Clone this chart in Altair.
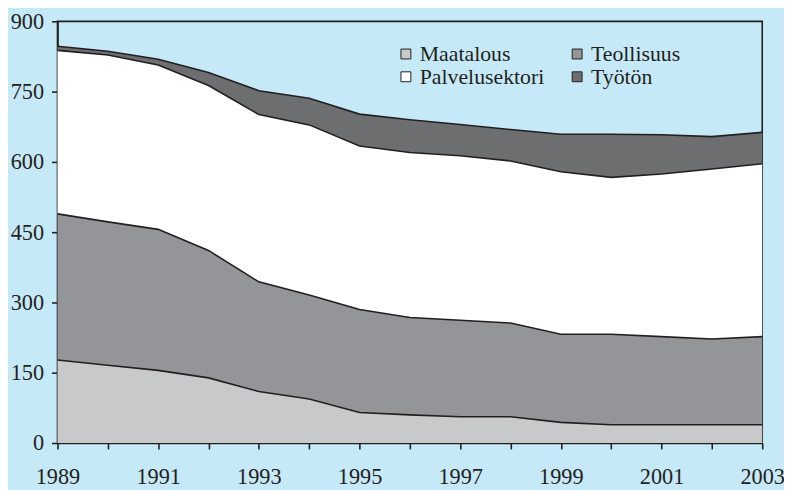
import altair as alt
import pandas as pd

years = list(range(1989, 2004))
maatalous = [177, 166, 155, 139, 110, 94, 65, 60, 56, 56, 44, 39, 39, 39, 39]
teollisuus = [312, 306, 301, 272, 234, 222, 220, 208, 206, 200, 188, 193, 188, 183, 188]
palvelusektori = [349, 356, 351, 352, 357, 363, 349, 352, 351, 346, 347, 335, 347, 363, 369]
tyoton = [9, 8, 12, 28, 51, 57, 68, 70, 67, 67, 80, 92, 84, 69, 67]

categories = ["Maatalous", "Teollisuus", "Palvelusektori", "Työtön"]
colors = ["#C8C9CB", "#939598", "#FFFFFF", "#6D6E70"]
# legend entries are laid out column by column
legend_order = ["Maatalous", "Palvelusektori", "Teollisuus", "Työtön"]
legend_colors = ["#C8C9CB", "#FFFFFF", "#939598", "#6D6E70"]
y_ticks = [0, 150, 300, 450, 600, 750, 900]

series = [maatalous, teollisuus, palvelusektori, tyoton]
rows = []
for i, yr in enumerate(years):
    for k, name in enumerate(categories):
        rows.append({"vuosi": yr, "sektori": name, "arvo": series[k][i], "jarj": k})
df = pd.DataFrame(rows)

FONT = "Liberation Serif"
INK = "#231F20"

x_enc = alt.X(
    "vuosi:Q",
    scale=alt.Scale(domain=[1989, 2003], nice=False, zero=False),
    axis=alt.Axis(
        title=None,
        values=years,
        format="d",
        labelExpr="datum.value % 2 == 1 ? datum.label : ''",
        grid=False,
        domainColor=INK,
        domainWidth=1.6,
        tickColor=INK,
        tickWidth=1.6,
        tickSize=6,
        labelPadding=17,
        labelFont=FONT,
        labelFontSize=22.5,
        labelColor=INK,
        labelOverlap=False,
        labelBound=False,
        labelFlush=False,
    ),
)
y_axis = alt.Axis(
    title=None,
    values=y_ticks,
    grid=False,
    domainColor=INK,
    domainWidth=1.6,
    tickColor=INK,
    tickWidth=1.6,
    tickSize=6,
    labelPadding=8,
    labelFont=FONT,
    labelFontSize=22.5,
    labelColor=INK,
    labelOverlap=False,
    labelBound=False,
    labelFlush=False,
)

base = alt.Chart(df).transform_stack(
    stack="arvo",
    groupby=["vuosi"],
    as_=["y0", "y1"],
    sort=[alt.SortField("jarj", order="ascending")],
)

areas = base.mark_area(opacity=1, interpolate="linear").encode(
    x=x_enc,
    y=alt.Y("y1:Q", scale=alt.Scale(domain=[0, 900], nice=False), axis=y_axis),
    y2="y0:Q",
    color=alt.Color(
        "sektori:N",
        scale=alt.Scale(domain=legend_order, range=legend_colors),
        legend=alt.Legend(
            title=None,
            orient="none",
            legendX=341,
            legendY=22,
            columns=2,
            columnPadding=22,
            rowPadding=1,
            padding=0,
            symbolType="square",
            symbolSize=100,
            symbolStrokeColor=INK,
            symbolStrokeWidth=1,
            symbolOpacity=1,
            labelOffset=3,
            labelFont=FONT,
            labelFontSize=22,
            labelColor=INK,
        ),
    ),
)

lines = base.mark_line(color=INK, strokeWidth=1.6, interpolate="linear").encode(
    x=alt.X("vuosi:Q"),
    y=alt.Y("y1:Q"),
    detail="sektori:N",
)

chart = alt.layer(areas, lines).properties(
    width=712,
    height=426,
    autosize=alt.AutoSizeParams(type="none"),
    padding={"left": 50, "top": 11, "right": 22, "bottom": 45},
    background="#C6E9F8",
).configure_view(
    stroke=INK,
    strokeWidth=1.6,
)

chart.save("out.html", embed_options={"renderer": "svg", "actions": False})
